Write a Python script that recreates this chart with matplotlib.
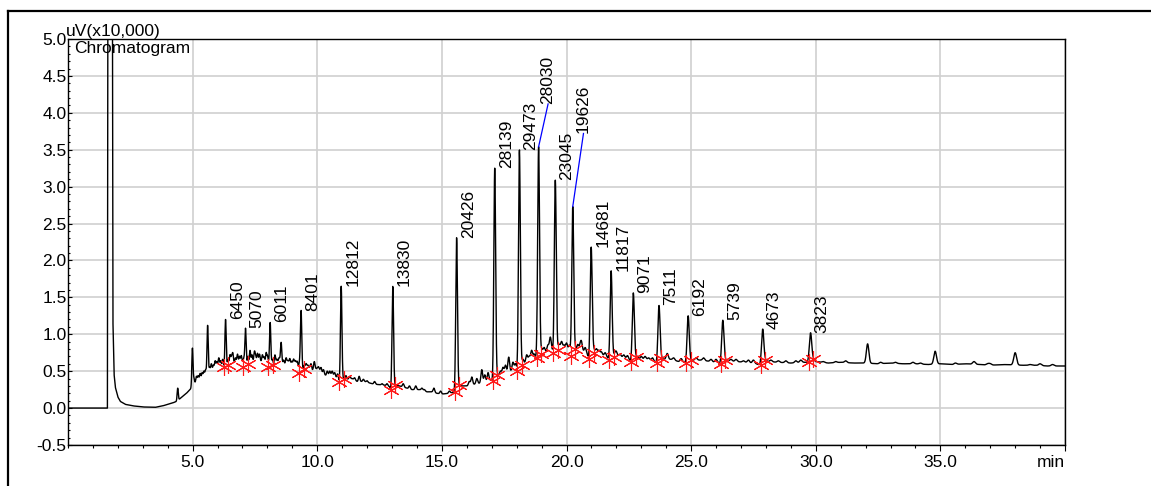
import numpy as np
import matplotlib
matplotlib.use("Agg")
import matplotlib.pyplot as plt
from matplotlib.lines import Line2D
from matplotlib.ticker import MultipleLocator

plt.rcParams['font.family'] = ['Liberation Sans', 'DejaVu Sans']
plt.rcParams['axes.unicode_minus'] = False

# ---- data (time in min, signal in uV x10,000) ----
# labelled peaks: retention time, apex, baseline at start / end marker
peak_rt = [6.32, 7.12, 8.11, 9.35, 10.96, 13.03, 15.59, 17.12, 18.11, 18.88,
           19.55, 20.25, 20.99, 21.79, 22.68, 23.71, 24.88, 26.27, 27.87, 29.79]
peak_apex = [1.20, 1.08, 1.16, 1.32, 1.65, 1.65, 2.31, 3.25, 3.50, 3.54,
             3.09, 2.73, 2.18, 1.86, 1.56, 1.39, 1.25, 1.19, 1.07, 1.02]
peak_area = ["6450", "5070", "6011", "8401", "12812", "13830", "20426", "28139",
             "29473", "28030", "23045", "19626", "14681", "11817", "9071", "7511",
             "6192", "5739", "4673", "3823"]
base_start = [0.56, 0.56, 0.55, 0.48, 0.35, 0.25, 0.22, 0.36, 0.50, 0.68,
              0.74, 0.70, 0.67, 0.65, 0.63, 0.61, 0.61, 0.60, 0.58, 0.62]
base_end = [0.59, 0.60, 0.58, 0.53, 0.40, 0.31, 0.31, 0.45, 0.58, 0.73,
            0.79, 0.80, 0.74, 0.69, 0.69, 0.68, 0.65, 0.65, 0.65, 0.66]

# unlabelled peaks and small spikes: time, apex
minor_rt = [4.40, 4.99, 5.60, 8.55, 32.08, 34.79, 36.35, 38.00,
            5.15, 5.30, 5.45, 5.75, 5.90, 6.05, 6.20, 6.50, 6.61, 6.80, 6.95,
            7.30, 7.48, 7.60, 7.80, 7.95, 8.30, 8.75, 8.90, 9.05, 9.20, 9.55,
            9.88, 10.15, 10.50, 10.70, 11.30, 11.68, 12.00, 12.60, 13.95, 14.30,
            14.68, 16.20, 16.60, 16.85, 17.45, 17.68, 17.85, 18.40, 18.60, 19.10,
            19.35, 19.80, 20.00, 20.45, 20.60, 21.20, 21.40, 22.00, 22.30, 23.00,
            23.30, 24.04, 25.50, 26.80, 27.30, 28.50, 29.20, 31.20, 33.20, 33.90,
            37.00, 39.00,
            5.05, 5.22, 5.38, 5.52, 5.68, 5.83, 5.97, 6.12, 6.42, 6.56, 6.72,
            6.88, 7.05, 7.22, 7.38, 7.53, 7.68, 7.87, 8.02, 8.20, 8.38, 8.47,
            8.65, 8.82, 8.98, 9.12, 9.28, 9.48, 9.62, 9.75, 10.05, 10.25, 10.40,
            10.60, 10.82, 11.15, 11.50, 11.85, 12.30, 12.80, 13.45, 13.70, 14.20,
            14.95, 15.30, 16.10, 16.40, 16.72, 17.35, 17.55, 17.95, 18.25, 18.50,
            18.70, 19.00, 19.25, 19.70, 19.90, 20.12, 20.55, 20.75, 21.10, 21.30,
            21.55, 21.95, 22.15, 22.45, 22.85, 23.15, 23.45, 24.30, 24.60, 25.20,
            25.80, 26.00, 26.60, 27.10, 27.50, 28.20, 28.80, 29.40, 30.30, 30.80,
            32.60, 34.20, 35.60, 36.90, 38.60, 39.50]
minor_apex = [0.27, 0.81, 1.12, 0.89, 0.87, 0.77, 0.63, 0.75,
              0.43, 0.47, 0.50, 0.60, 0.64, 0.68, 0.66, 0.72, 0.74, 0.73, 0.71,
              0.78, 0.76, 0.74, 0.72, 0.75, 0.72, 0.68, 0.67, 0.66, 0.63, 0.60,
              0.63, 0.55, 0.50, 0.48, 0.43, 0.43, 0.37, 0.33, 0.30, 0.25,
              0.27, 0.42, 0.52, 0.48, 0.55, 0.69, 0.62, 0.72, 0.78, 0.82,
              0.96, 0.90, 0.88, 0.86, 0.88, 0.80, 0.76, 0.75, 0.72, 0.70,
              0.68, 0.74, 0.68, 0.66, 0.65, 0.64, 0.64, 0.64, 0.62, 0.62,
              0.60, 0.60,
              0.40, 0.44, 0.48, 0.52, 0.55, 0.58, 0.63, 0.64, 0.66, 0.69, 0.68,
              0.70, 0.67, 0.70, 0.72, 0.69, 0.73, 0.69, 0.68, 0.66, 0.66, 0.68,
              0.65, 0.64, 0.63, 0.64, 0.60, 0.58, 0.58, 0.60, 0.56, 0.52, 0.50,
              0.50, 0.46, 0.44, 0.41, 0.39, 0.36, 0.33, 0.33, 0.30, 0.27,
              0.23, 0.23, 0.36, 0.40, 0.45, 0.50, 0.58, 0.60, 0.66, 0.70,
              0.73, 0.80, 0.85, 0.86, 0.85, 0.84, 0.84, 0.82, 0.79, 0.78,
              0.75, 0.74, 0.73, 0.71, 0.70, 0.70, 0.68, 0.68, 0.67, 0.68,
              0.66, 0.66, 0.66, 0.64, 0.65, 0.65, 0.64, 0.65, 0.63, 0.63,
              0.62, 0.61, 0.61, 0.60, 0.59, 0.59]

# drifting baseline (incl. off-scale solvent front)
base_t = [0.0, 1.58, 1.60, 1.78, 1.80, 1.85, 1.90, 2.0, 2.1, 2.3, 2.6, 3.0, 3.5,
          3.8, 4.0, 4.2, 4.35, 4.5, 4.6, 4.75, 4.95, 5.0, 5.2, 5.4, 5.5, 5.7,
          5.85, 6.0, 6.1, 6.5, 6.7, 6.9, 7.0, 7.25, 7.4, 7.55, 7.7, 7.9, 8.0,
          8.25, 8.4, 8.65, 8.85, 9.0, 9.15, 9.5, 9.7, 9.8, 10.0, 10.2, 10.35,
          10.6, 10.8, 11.2, 11.4, 11.6, 11.9, 12.2, 12.4, 12.7, 12.9, 13.3, 13.6,
          13.8, 14.1, 14.4, 14.6, 14.8, 15.0, 15.3, 15.8, 16.0, 16.4, 16.8,
          16.95, 17.3, 17.6, 17.8, 18.0, 18.3, 18.5, 18.7, 19.0, 19.2, 19.4,
          19.7, 19.9, 20.1, 20.4, 20.6, 20.8, 21.1, 21.3, 21.6, 21.9, 22.1, 22.4,
          22.9, 23.2, 23.5, 23.9, 24.2, 24.5, 24.7, 25.1, 25.4, 25.8, 26.1, 26.5,
          26.8, 27.2, 27.6, 28.1, 28.5, 29.0, 29.5, 30.0, 30.5, 31.0, 31.5, 32.0,
          32.5, 33.0, 33.5, 34.0, 34.5, 35.0, 35.5, 36.0, 36.6, 37.0, 37.5, 38.3,
          38.8, 39.3, 40.0]
base_v = [0.0, 0.0, 6.0, 6.0, 1.2, 0.45, 0.28, 0.15, 0.09, 0.05, 0.03, 0.015, 0.01,
          0.03, 0.05, 0.07, 0.09, 0.13, 0.16, 0.20, 0.27, 0.30, 0.38, 0.42, 0.45, 0.50,
          0.53, 0.57, 0.55, 0.60, 0.62, 0.60, 0.62, 0.58, 0.63, 0.60, 0.64, 0.59, 0.61,
          0.57, 0.62, 0.58, 0.60, 0.55, 0.58, 0.52, 0.55, 0.51, 0.54, 0.47, 0.44,
          0.45, 0.40, 0.39, 0.40, 0.36, 0.36, 0.33, 0.32, 0.31, 0.29, 0.30, 0.27,
          0.25, 0.25, 0.22, 0.22, 0.20, 0.19, 0.20, 0.30, 0.30, 0.33, 0.35,
          0.38, 0.44, 0.47, 0.50, 0.51, 0.60, 0.64, 0.66, 0.74, 0.76, 0.79,
          0.78, 0.80, 0.77, 0.78, 0.77, 0.74, 0.74, 0.72, 0.70, 0.70, 0.70, 0.67,
          0.66, 0.66, 0.63, 0.66, 0.66, 0.63, 0.62, 0.65, 0.65, 0.63, 0.61, 0.64,
          0.63, 0.62, 0.60, 0.63, 0.62, 0.61, 0.62, 0.63, 0.61, 0.62, 0.61, 0.61,
          0.60, 0.61, 0.60, 0.60, 0.59, 0.60, 0.59, 0.60, 0.59, 0.58, 0.59, 0.58,
          0.58, 0.57, 0.57]

# labels that the instrument moved up with a leader line: (x, y) of label foot
leader_pos = {"28030": (19.26, 4.12), "19626": (20.68, 3.72)}

# ---- build the trace ----
knot_t = np.array(base_t + [r - 0.08 for r in peak_rt] + [r + 0.10 for r in peak_rt])
knot_v = np.array(base_v + base_start + base_end)
order = np.argsort(knot_t)
knot_t, knot_v = knot_t[order], knot_v[order]

t = np.arange(0.0, 40.0005, 0.004)
signal = np.interp(t, knot_t, knot_v)
for rt, top in zip(peak_rt + minor_rt, peak_apex + minor_apex):
    h = top - np.interp(rt, knot_t, knot_v)
    s = 0.018 + 0.001 * rt
    signal += h * np.exp(-0.5 * ((t - rt) / s) ** 2)

# ---- figure ----
fig = plt.figure(figsize=(11.51, 4.86), dpi=100)
ax = fig.add_axes([0.0591, 0.0844, 0.8662, 0.8354])

ax.plot(t, signal, color="black", lw=1.0)

mx = [r - 0.08 for r in peak_rt] + [r + 0.10 for r in peak_rt]
my = base_start + base_end
ax.plot(mx, my, ls="none", marker=(6, 2, 0), ms=12, mew=0.8, color="#ff1a1a")

for rt, top, lbl in zip(peak_rt, peak_apex, peak_area):
    if lbl in leader_pos:
        lx, ly = leader_pos[lbl]
        ax.plot([rt, lx], [top, ly], color="blue", lw=0.9)
        ax.text(lx, ly, lbl, rotation=90, rotation_mode="anchor",
                ha="left", va="center", fontsize=12.5)
    else:
        ax.annotate(lbl, (rt, top), xytext=(3, 0), textcoords="offset points",
                    rotation=90, rotation_mode="anchor", ha="left", va="top",
                    fontsize=12.5)

ax.set_xlim(0, 40)
ax.set_ylim(-0.5, 5.0)
ax.set_xticks([5, 10, 15, 20, 25, 30, 35, 40],
              ["5.0", "10.0", "15.0", "20.0", "25.0", "30.0", "35.0", "min"])
ax.get_xticklabels()[-1].set_horizontalalignment("right")
ax.set_yticks(np.arange(-0.5, 5.01, 0.5))
ax.yaxis.set_major_formatter(matplotlib.ticker.FormatStrFormatter("%.1f"))
ax.xaxis.set_minor_locator(MultipleLocator(1))
ax.yaxis.set_minor_locator(MultipleLocator(0.1))
ax.tick_params(axis="x", which="major", direction="out", length=4, width=0.8,
               labelsize=12.5, pad=3)
ax.tick_params(axis="x", which="minor", direction="out", length=2, width=0.8)
ax.tick_params(axis="y", which="major", direction="in", length=3, width=0.8,
               labelsize=12.5, pad=1)
ax.tick_params(axis="y", which="minor", direction="in", length=1.5, width=0.8)
ax.grid(True, which="major", color="#d0d0d0", lw=1.2)
ax.set_axisbelow(True)
for sp in ax.spines.values():
    sp.set_linewidth(1.0)

ax.text(-0.002, 1.0, "uV(x10,000)", transform=ax.transAxes, ha="left",
        va="bottom", fontsize=12.5)
ax.text(0.006, 0.995, "Chromatogram", transform=ax.transAxes, ha="left",
        va="top", fontsize=12.5)

# outer frame
fig.add_artist(Line2D([8 / 1151, 1.0], [1 - 11.5 / 486] * 2,
                      transform=fig.transFigure, color="black", lw=1.6))
fig.add_artist(Line2D([8 / 1151] * 2, [0.0, 1 - 11.5 / 486],
                      transform=fig.transFigure, color="black", lw=1.6))

fig.savefig("out.png", dpi=100)
